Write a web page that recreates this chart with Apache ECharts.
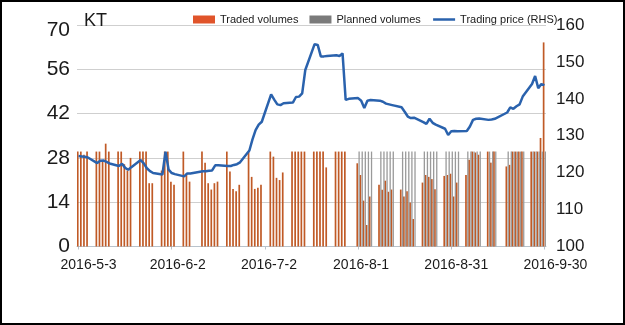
<!DOCTYPE html>
<html>
<head>
<meta charset="utf-8">
<script src="https://cdn.jsdelivr.net/npm/echarts@6/dist/echarts.min.js"></script>
<style>
  html, body { margin: 0; padding: 0; background: #fff; }
  #wrap { position: relative; width: 625px; height: 325px; }
  #chart { position: absolute; left: 0; top: 0; width: 625px; height: 325px; }
  #frame { position: absolute; left: 0; top: 0; width: 625px; height: 325px; box-sizing: border-box; border: 2px solid #000; pointer-events: none; }
</style>
</head>
<body>
<div id="wrap"><div id="chart"></div><div id="frame"></div></div>
<script>
const _ = null;
const startDate = [2016, 5, 3];
const dayCount = 151;
const labelDays = [0, 30, 60, 90, 120, 150];
const leftTicks = [0, 14, 28, 42, 56, 70];
const rightTicks = [100, 110, 120, 130, 140, 150, 160];
const seriesNames = ['Traded volumes', 'Planned volumes', 'Trading price (RHS)'];

// one entry per calendar day from 2016-5-3 to 2016-9-30 (null = no trading)
const traded = [
  30,30,29,30,_,_,30,30,27,32.5,
  30,_,_,30,30,26,24,28,_,_,
  30,30,30,20,20,_,_,24,30,30,
  20.5,19.5,_,_,30,23,20.5,_,_,_,
  30,26.5,20,18,20,20.5,_,_,30,23.7,
  18.2,17.5,19.5,_,_,30,22,18.2,18.6,19.5,
  _,_,30,28.4,21.7,21,23.4,_,_,30,
  30,30,30,30,_,_,30,30,30,30,
  25,_,_,30,30,30,30,_,_,_,
  26.3,22.6,14.5,6.8,15.8,_,_,19.5,17.9,20.8,
  17.3,18,_,_,18,15.8,17.5,13.9,8.7,_,
  _,20.2,22.6,22,21.3,18.1,_,_,22.3,22.6,
  23,15.8,20.2,_,_,22.6,27.4,30,29.7,29,
  _,_,30,26.5,30,_,_,_,25.3,25.8,
  30,30,30,30,_,_,30,30,30,34.3,64.5
];
const planned = [
  _,_,_,_,_,_,_,_,_,_,
  _,_,_,_,_,_,_,_,_,_,
  _,_,_,_,_,_,_,_,_,_,
  _,_,_,_,_,_,_,_,_,_,
  _,_,_,_,_,_,_,_,_,_,
  _,_,_,_,_,_,_,_,_,_,
  _,_,_,_,_,_,_,_,_,_,
  _,_,_,_,_,_,_,_,_,_,
  _,_,_,_,_,_,_,_,_,_,
  30,30,30,30,30,_,_,30,30,30,
  30,30,_,_,30,30,30,30,30,_,
  _,30,30,30,30,30,_,_,30,30,
  30,30,30,_,_,30,30,30,30,30,
  _,_,30,30,30,_,_,_,30,30,
  30,30,30,30,_,_,30,30,30,30,30
];
const price = [
  124.5,124.4,124.3,124.1,_,_,122.6,123.2,123.3,122.9,
  122.5,_,_,121.8,122.4,121.3,120.8,121.5,_,_,
  123.4,122.5,121.2,120.4,119.9,_,_,119.5,125.7,120.8,
  119.9,119.6,_,_,119.0,119.8,119.8,_,_,_,
  120.4,120.4,120.5,120.6,122.0,122.0,_,_,121.8,121.8,
  122.1,122.3,122.8,_,_,126.0,129.0,131.5,133.0,133.8,
  _,_,141.2,139.8,138.5,138.3,138.8,_,_,139.0,
  140.5,140.6,141.5,147.8,_,_,154.8,154.6,151.5,151.5,
  151.6,_,_,151.8,151.6,152.3,139.7,140.0,_,_,
  140.2,139.5,137.5,139.5,139.7,_,_,139.5,139.2,138.7,
  138.5,138.3,_,_,137.7,136.5,135.2,134.8,134.9,_,
  _,133.7,133.2,134.6,133.5,133.0,_,_,131.9,130.2,
  131.2,131.3,131.2,_,_,131.3,132.5,134.3,134.6,134.7,
  _,_,134.3,134.4,134.6,_,_,_,136.3,137.7,
  137.3,138.0,138.5,140.6,_,_,144.0,146.2,142.9,144.0,143.7
];

// calendar-day categories
const days = [];
for (let i = 0; i < dayCount; i++) {
  const d = new Date(startDate[0], startDate[1] - 1, startDate[2] + i);
  days.push(d.getFullYear() + '-' + (d.getMonth() + 1) + '-' + d.getDate());
}

const FONT = '"Liberation Sans", Arial, sans-serif';
const labelShift = [10, 6, 4, 3, 5, 11];
const xRich = {};
labelShift.forEach((s, k) => { xRich['p' + k] = { padding: [0, 0, 0, 2 * s], fontFamily: FONT, fontSize: 14, color: '#1a1a1a' }; });

const chart = echarts.init(document.getElementById('chart'), null, { renderer: 'canvas' });
chart.setOption({
  animation: false,
  backgroundColor: '#fff',
  title: {
    text: 'KT', left: 79, top: 7,
    textStyle: { fontFamily: FONT, fontSize: 18, fontWeight: 'normal', color: '#1a1a1a' }
  },
  legend: {
    left: 188, top: 9, itemWidth: 22, itemHeight: 8, itemGap: 11,
    textStyle: { fontFamily: FONT, fontSize: 11, color: '#1a1a1a' },
    data: [
      { name: seriesNames[0], icon: 'rect', itemStyle: { color: '#e0542a' } },
      { name: seriesNames[1], icon: 'rect', itemStyle: { color: '#7a7a7a' } },
      { name: seriesNames[2], itemStyle: { color: 'rgba(0,0,0,0)', borderWidth: 0, opacity: 0 },
        lineStyle: { color: '#2a62ad', width: 2.5, opacity: 1 } }
    ]
  },
  grid: { left: 77, right: 79, top: 25, bottom: 78.5, containLabel: false },
  xAxis: {
    type: 'category', data: days, boundaryGap: true,
    axisLine: { lineStyle: { color: '#b9c3cc', width: 1 } },
    axisTick: { show: true, interval: 29, alignWithLabel: true, length: 3, lineStyle: { color: '#b9c3cc' } },
    axisLabel: {
      interval: 29, margin: 12, rich: xRich,
      formatter: (v, idx) => { const k = labelDays.indexOf(idx); return '{p' + (k < 0 ? 0 : k) + '|' + v + '}'; }
    },
    splitLine: { show: false }
  },
  yAxis: [
    {
      type: 'value', min: leftTicks[0], max: leftTicks[leftTicks.length - 1], interval: 14,
      axisLine: { show: false }, axisTick: { show: false },
      axisLabel: {
        margin: 7, fontFamily: FONT, fontSize: 21, color: '#1a1a1a',
        formatter: v => v === 70 ? '{t|70}' : '{n|' + v + '}',
        rich: {
          t: { fontFamily: FONT, fontSize: 21, color: '#1a1a1a', padding: [10, 0, 0, 0] },
          n: { fontFamily: FONT, fontSize: 21, color: '#1a1a1a' }
        }
      },
      splitLine: { lineStyle: { color: '#cfcfcf', width: 1 } }
    },
    {
      type: 'value', min: rightTicks[0], max: rightTicks[rightTicks.length - 1], interval: 10,
      axisLine: { show: false }, axisTick: { show: false },
      axisLabel: { margin: 10, fontFamily: FONT, fontSize: 17, color: '#1a1a1a' },
      splitLine: { show: false }
    }
  ],
  series: [
    {
      name: seriesNames[0], type: 'bar', yAxisIndex: 0, data: traded,
      barWidth: 1.7, barGap: '20%',
      itemStyle: { color: '#c05a26' }
    },
    {
      name: seriesNames[1], type: 'bar', yAxisIndex: 0, data: planned,
      barWidth: 1.3,
      itemStyle: { color: '#9a9a9a' }
    },
    {
      name: seriesNames[2], type: 'line', yAxisIndex: 1, data: price,
      connectNulls: true, symbol: 'none', showSymbol: false,
      lineStyle: { color: '#2a62ad', width: 2.5 },
      itemStyle: { color: '#2a62ad' }, z: 5
    }
  ]
});
</script>
</body>
</html>
